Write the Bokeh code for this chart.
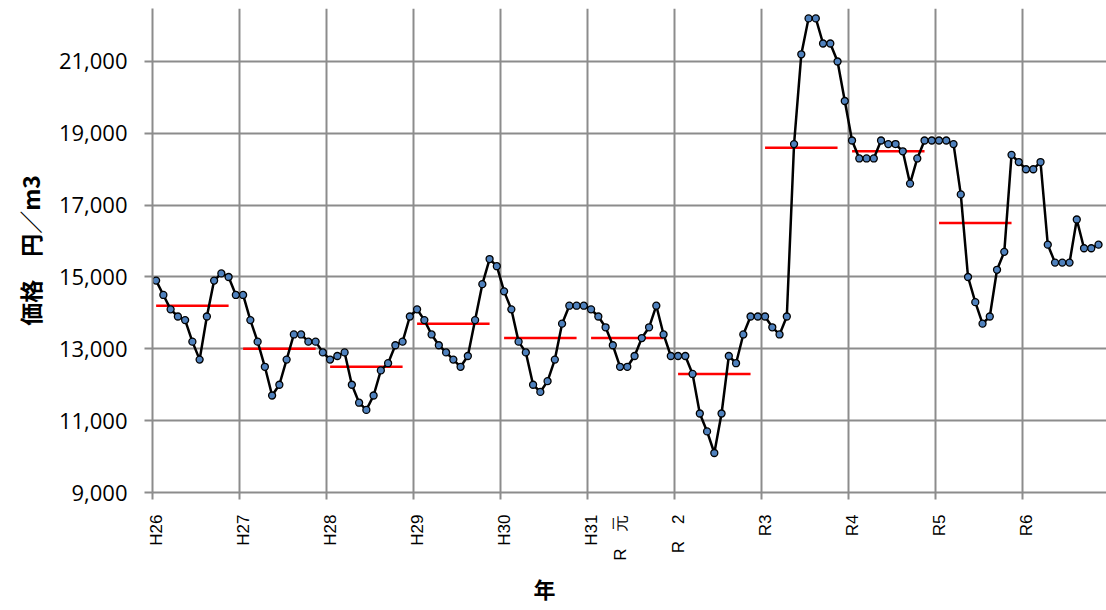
from bokeh.plotting import figure
from bokeh.models import FixedTicker, NumeralTickFormatter, Range1d, Title, ColumnDataSource
from bokeh.embed import file_html
from bokeh.resources import INLINE

# ---- data ----
year_labels = ["H26", "H27", "H28", "H29", "H30", "H31", "R2", "R3", "R4", "R5", "R6"]
h26 = [14900, 14500, 14100, 13900, 13800, 13200, 12700, 13900, 14900, 15100, 15000, 14500]
h27 = [14500, 13800, 13200, 12500, 11700, 12000, 12700, 13400, 13400, 13200, 13200, 12900]
h28 = [12700, 12800, 12900, 12000, 11500, 11300, 11700, 12400, 12600, 13100, 13200, 13900]
h29 = [14100, 13800, 13400, 13100, 12900, 12700, 12500, 12800, 13800, 14800, 15500, 15300]
h30 = [14600, 14100, 13200, 12900, 12000, 11800, 12100, 12700, 13700, 14200, 14200, 14200]
h31 = [14100, 13900, 13600, 13100, 12500, 12500, 12800, 13300, 13600, 14200, 13400, 12800]
r2 = [12800, 12800, 12300, 11200, 10700, 10100, 11200, 12800, 12600, 13400, 13900, 13900]
r3 = [13900, 13600, 13400, 13900, 18700, 21200, 22200, 22200, 21500, 21500, 21000, 19900]
r4 = [18800, 18300, 18300, 18300, 18800, 18700, 18700, 18500, 17600, 18300, 18800, 18800]
r5 = [18800, 18800, 18700, 17300, 15000, 14300, 13700, 13900, 15200, 15700, 18400, 18200]
r6 = [18000, 18000, 18200, 15900, 15400, 15400, 15400, 16600, 15800, 15800, 15900]
annual_avg = [14200, 13000, 12500, 13700, 13300, 13300, 12300, 18600, 18500, 16500]

tick_label_months = [0, 12, 24, 36, 48, 60, 64, 72, 84, 96, 108, 120]
tick_label_texts = ["H26", "H27", "H28", "H29", "H30", "H31", "R\u3000元", "R\u30002", "R3", "R4", "R5", "R6"]
y_ticks = [9000, 11000, 13000, 15000, 17000, 19000, 21000]

prices = h26 + h27 + h28 + h29 + h30 + h31 + r2 + r3 + r4 + r5 + r6
n = len(prices)
xs = [i + 0.5 for i in range(n)]
src = ColumnDataSource(dict(x=xs, y=prices))

avg_src = ColumnDataSource(dict(
    x0=[k * 12 + 0.5 for k in range(len(annual_avg))],
    x1=[k * 12 + 10.5 for k in range(len(annual_avg))],
    y=annual_avg,
))

boundaries = [k * 12 for k in range(len(year_labels))]
label_pos = [m + 0.5 for m in tick_label_months]

GRID = "#8c8c8c"

p = figure(width=1106, height=610, output_backend="svg", toolbar_location=None,
           x_range=Range1d(0, 131.6), y_range=Range1d(9000, 22475),
           min_border_left=152, min_border_right=0, min_border_top=8, min_border_bottom=118)
p.outline_line_color = None
p.background_fill_color = "white"

# grids
p.xgrid.ticker = FixedTicker(ticks=boundaries)
p.xgrid.grid_line_color = GRID
p.xgrid.grid_line_width = 2
p.ygrid.grid_line_color = GRID
p.ygrid.grid_line_width = 2

# x axis
xa = p.xaxis[0]
xa.ticker = FixedTicker(ticks=label_pos, minor_ticks=boundaries)
xa.major_label_overrides = {pos: t for pos, t in zip(label_pos, tick_label_texts)}
xa.major_tick_line_color = None
xa.major_tick_out = 0
xa.major_tick_in = 0
xa.minor_tick_line_color = GRID
xa.minor_tick_line_width = 2
xa.minor_tick_out = 7
xa.minor_tick_in = 0
xa.axis_line_color = GRID
xa.axis_line_width = 2
xa.major_label_orientation = 1.5707963
xa.major_label_standoff = 15
xa.major_label_text_font = "Liberation Sans"
xa.major_label_text_font_size = "17px"
xa.major_label_text_color = "black"

# y axis
ya = p.yaxis[0]
ya.ticker = FixedTicker(ticks=y_ticks, minor_ticks=[])
ya.formatter = NumeralTickFormatter(format="0,0")
ya.major_tick_line_color = GRID
ya.major_tick_line_width = 2
ya.major_tick_out = 8
ya.major_tick_in = 0
ya.axis_line_color = GRID
ya.axis_line_width = 2
ya.major_label_standoff = 17
ya.major_label_text_font = "Open Sans"
ya.major_label_text_font_size = "22px"
ya.major_label_text_color = "black"
ya.axis_label = "価格\u3000円／m3"
ya.axis_label_text_font = "Noto Sans CJK JP"
ya.axis_label_text_font_style = "bold"
ya.axis_label_text_font_size = "23px"
ya.axis_label_text_color = "black"
ya.axis_label_standoff = 9

# annual averages (red)
p.segment(x0="x0", x1="x1", y0="y", y1="y", source=avg_src, line_color="#ff0000", line_width=2.5)

# monthly prices
p.line("x", "y", source=src, line_color="black", line_width=2.5)
p.scatter("x", "y", source=src, marker="circle", size=7, fill_color="#4f81bd",
          line_color="black", line_width=1.3)

# x axis title
p.add_layout(Title(text="年", align="left", offset=381, standoff=12,
                   text_font="Noto Sans CJK JP", text_font_style="bold",
                   text_font_size="22px", text_color="black"), "below")

open("out.html", "w").write(file_html(p, INLINE))
